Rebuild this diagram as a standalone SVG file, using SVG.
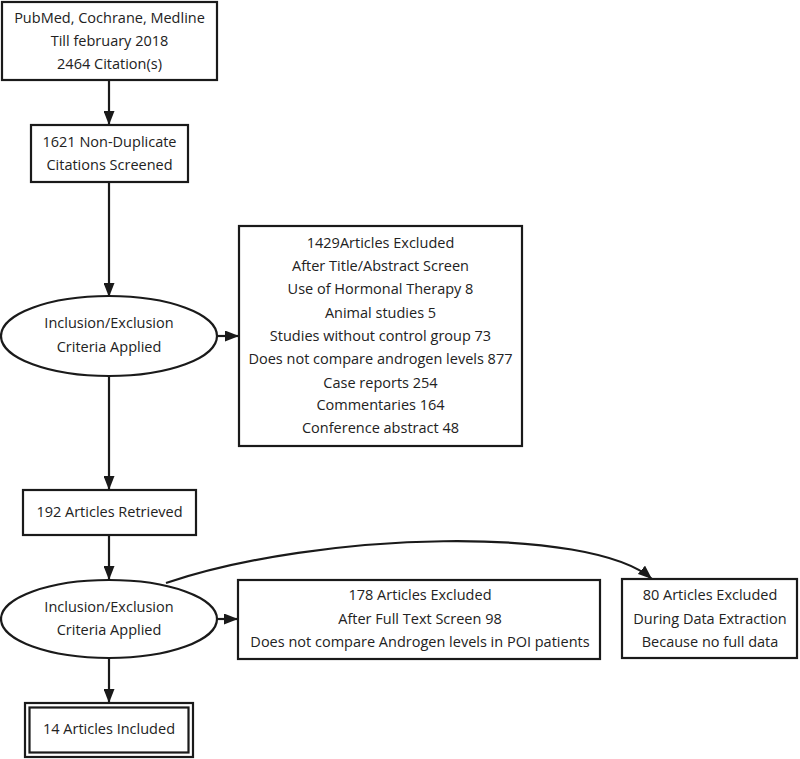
<svg xmlns="http://www.w3.org/2000/svg" width="800" height="759" viewBox="0 0 800 759">
<defs>
<marker id="ah" markerUnits="userSpaceOnUse" markerWidth="14" markerHeight="11" refX="14" refY="5.5" orient="auto">
<path d="M0,0 L14,5.5 L0,11 z" fill="#1a1a1a"/>
</marker>
<style>
.box{fill:#fff;stroke:#1a1a1a;stroke-width:2.2}
.t{font-family:"Open Sans","Noto Sans","Liberation Sans",sans-serif;font-size:14.5px;fill:#222;text-anchor:middle;dominant-baseline:central}
.c{fill:none;stroke:#1a1a1a;stroke-width:2.2;marker-end:url(#ah)}
</style>
</defs>
<rect width="800" height="759" fill="#fff"/>
<g id="connectors">
<line class="c" x1="109" y1="80" x2="109" y2="125"/>
<line class="c" x1="109" y1="182" x2="109" y2="297"/>
<line class="c" x1="217" y1="336" x2="239" y2="336"/>
<line class="c" x1="109" y1="376" x2="109" y2="490"/>
<line class="c" x1="109" y1="535" x2="109" y2="580"/>
<line class="c" x1="217" y1="619" x2="238" y2="619"/>
<line class="c" x1="109" y1="658" x2="109" y2="703"/>
<path class="c" d="M166,583 C320,531 590,525 652,579"/>
</g>
<g id="n1">
<rect class="box" x="2" y="2" width="215" height="78"/>
<text class="t" x="109.5" y="17">PubMed, Cochrane, Medline</text>
<text class="t" x="109.5" y="40">Till february 2018</text>
<text class="t" x="109.5" y="63">2464 Citation(s)</text>
</g>
<g id="n2">
<rect class="box" x="31" y="125" width="157" height="57"/>
<text class="t" x="109.5" y="141">1621 Non-Duplicate</text>
<text class="t" x="109.5" y="164">Citations Screened</text>
</g>
<g id="n3">
<ellipse class="box" cx="109" cy="336" rx="108" ry="40"/>
<text class="t" x="109" y="322">Inclusion/Exclusion</text>
<text class="t" x="109" y="346">Criteria Applied</text>
</g>
<g id="n4">
<rect class="box" x="239" y="226" width="283" height="220"/>
<text class="t" x="380.5" y="242">1429Articles Excluded</text>
<text class="t" x="380.5" y="265">After Title/Abstract Screen</text>
<text class="t" x="380.5" y="288">Use of Hormonal Therapy 8</text>
<text class="t" x="380.5" y="312">Animal studies 5</text>
<text class="t" x="380.5" y="335">Studies without control group 73</text>
<text class="t" x="380.5" y="358">Does not compare androgen levels 877</text>
<text class="t" x="380.5" y="382">Case reports 254</text>
<text class="t" x="380.5" y="404">Commentaries 164</text>
<text class="t" x="380.5" y="427">Conference abstract 48</text>
</g>
<g id="n5">
<rect class="box" x="23" y="490" width="173" height="45"/>
<text class="t" x="109.5" y="511">192 Articles Retrieved</text>
</g>
<g id="n6">
<ellipse class="box" cx="109" cy="619" rx="108" ry="39"/>
<text class="t" x="109" y="606">Inclusion/Exclusion</text>
<text class="t" x="109" y="629">Criteria Applied</text>
</g>
<g id="n7">
<rect class="box" x="238" y="580" width="362" height="79"/>
<text class="t" x="420" y="594">178 Articles Excluded</text>
<text class="t" x="420" y="618">After Full Text Screen 98</text>
<text class="t" x="420" y="641">Does not compare Androgen levels in POI patients</text>
</g>
<g id="n8">
<rect class="box" x="622" y="579" width="175" height="79"/>
<text class="t" x="710" y="594">80 Articles Excluded</text>
<text class="t" x="710" y="618">During Data Extraction</text>
<text class="t" x="710" y="641">Because no full data</text>
</g>
<g id="n9">
<rect class="box" x="25" y="703" width="168" height="54"/>
<rect class="box" x="29.5" y="707.5" width="159" height="45"/>
<text class="t" x="109" y="728">14 Articles Included</text>
</g>
</svg>
